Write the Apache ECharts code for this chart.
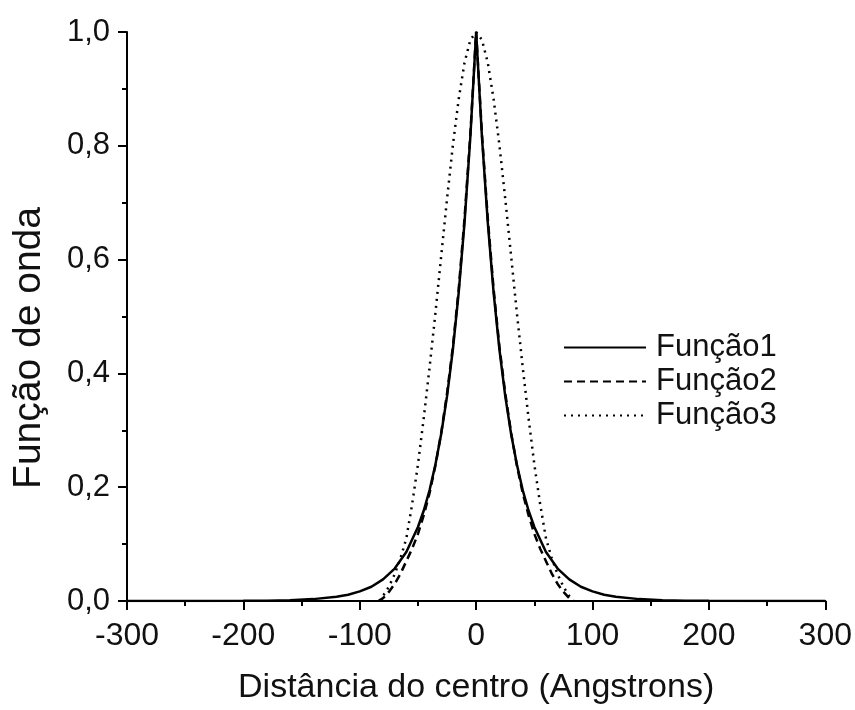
<!DOCTYPE html>
<html><head><meta charset="utf-8">
<script src="https://cdn.jsdelivr.net/npm/echarts@6/dist/echarts.min.js"></script>
<style>html,body{margin:0;padding:0;background:#fff}#c{width:855px;height:710px}</style>
</head><body><div id="c"></div>
<script>
// Função1 (solid)
const x1 = [-300,-250,-200,-180,-160,-140,-120,-110,-100,-90,-80,-70,-60,-50,-45,-40,-35,-30,-25,-20,-15,-10,-5,0,5,10,15,20,25,30,35,40,45,50,60,70,80,90,100,110,120,140,160,180,200,250,300];
const y1 = [0,0,0.0003,0.0006,0.0015,0.0033,0.0075,0.011,0.017,0.025,0.038,0.057,0.086,0.130,0.159,0.195,0.240,0.294,0.360,0.442,0.542,0.665,0.815,1.0,0.815,0.665,0.542,0.442,0.360,0.294,0.240,0.195,0.159,0.130,0.086,0.057,0.038,0.025,0.017,0.011,0.0075,0.0033,0.0015,0.0006,0.0003,0,0];
// Função2 (dashed)
const x2 = [-84,-80,-75,-70,-65,-60,-55,-50,-45,-40,-35,-30,-25,-20,-15,-10,-5,0,5,10,15,20,25,30,35,40,45,50,55,60,65,70,75,80,84];
const y2 = [0,0.005,0.016,0.030,0.048,0.070,0.092,0.118,0.151,0.190,0.238,0.296,0.365,0.447,0.548,0.672,0.820,1.0,0.820,0.672,0.548,0.447,0.365,0.296,0.238,0.190,0.151,0.118,0.092,0.070,0.048,0.030,0.016,0.005,0];
// Função3 (dotted)
const x3 = [-83,-80,-75,-70,-65,-60,-55,-50,-45,-40,-35,-30,-25,-20,-15,-10,-5,0,5,10,15,20,25,30,35,40,45,50,55,60,65,70,75,80,83];
const y3 = [0,0.009,0.025,0.047,0.075,0.110,0.170,0.240,0.322,0.411,0.506,0.607,0.707,0.801,0.882,0.946,0.986,1.0,0.986,0.946,0.882,0.801,0.707,0.607,0.506,0.411,0.322,0.240,0.170,0.110,0.075,0.047,0.025,0.009,0];
const seriesNames = ['Função1','Função2','Função3'];
const xTitle = 'Distância do centro (Angstrons)';
const yTitle = 'Função de onda';

const pair = (xs, ys) => xs.map((x, i) => [x, ys[i]]);
const FONT = 'Liberation Sans, Arial, Helvetica, sans-serif';
const chart = echarts.init(document.getElementById('c'), null, {renderer: 'canvas'});
const axisCommon = {
  axisLine: {show: true, onZero: false, lineStyle: {color: '#000', width: 2}},
  axisTick: {show: true, inside: false, length: 9, lineStyle: {color: '#000', width: 2}},
  minorTick: {show: true, splitNumber: 2, length: 5, lineStyle: {color: '#000', width: 2}},
  splitLine: {show: false},
  axisLabel: {color: '#111', fontSize: 32, fontFamily: FONT}
};
chart.setOption({
  animation: false,
  backgroundColor: '#fff',
  grid: {left: 127, right: 28, top: 32, bottom: 108, containLabel: false},
  xAxis: Object.assign({}, axisCommon, {
    type: 'value', min: -300, max: 300, interval: 100,
    axisLabel: Object.assign({}, axisCommon.axisLabel, {margin: 19}),
    name: xTitle, nameLocation: 'middle', nameGap: 70,
    nameTextStyle: {color: '#111', fontSize: 34, fontFamily: FONT}
  }),
  yAxis: Object.assign({}, axisCommon, {
    type: 'value', min: 0, max: 1, interval: 0.2,
    axisLabel: Object.assign({}, axisCommon.axisLabel, {margin: 17, fontSize: 31,
      formatter: v => v.toFixed(1).replace('.', ',')})
  }),
  graphic: [{
    type: 'text', x: 29, y: 348, rotation: Math.PI / 2,
    style: {text: yTitle, fill: '#111', fontSize: 39, fontFamily: FONT, align: 'center', verticalAlign: 'middle'}
  }],
  legend: {
    orient: 'vertical', left: 558, top: 327, itemWidth: 82, itemHeight: 14, itemGap: 3,
    textStyle: {color: '#111', fontSize: 31, fontFamily: FONT, padding: [0, 0, 0, 5]},
    data: seriesNames
  },
  series: [
    {name: seriesNames[0], type: 'line', symbol: 'none', data: pair(x1, y1),
     lineStyle: {color: '#000', width: 2.5, type: 'solid'}, itemStyle: {color: '#000', opacity: 0}},
    {name: seriesNames[1], type: 'line', symbol: 'none', data: pair(x2, y2),
     lineStyle: {color: '#000', width: 2.5, type: [8, 5]}, itemStyle: {color: '#000', opacity: 0}},
    {name: seriesNames[2], type: 'line', symbol: 'none', data: pair(x3, y3),
     lineStyle: {color: '#000', width: 2.5, type: [2, 5]}, itemStyle: {color: '#000', opacity: 0}}
  ]
});
</script></body></html>
